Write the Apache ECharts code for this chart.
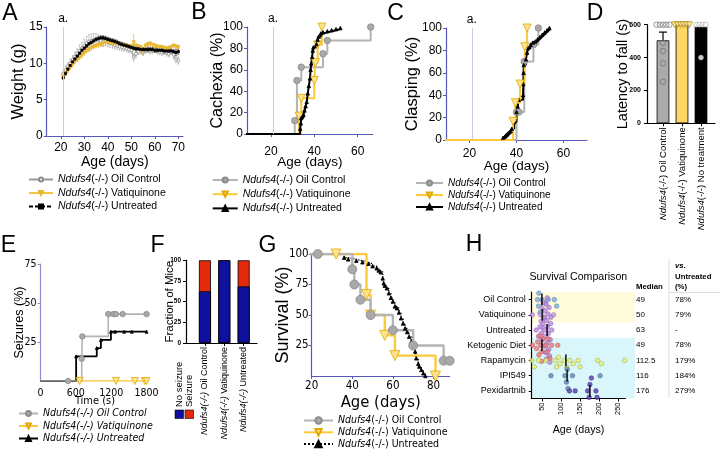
<!DOCTYPE html>
<html>
<head>
<meta charset="utf-8">
<script src="https://cdn.jsdelivr.net/npm/echarts@6.0.0/dist/echarts.min.js"></script>
<style>
html,body{margin:0;padding:0;background:#fff;}
#chart{width:720px;height:449px;}
</style>
</head>
<body>
<div id="chart"></div>
<script>
// ================= DATA =================
// Panel A - body weight (g) vs age (days), mean and SEM
const aAge = [21,22,23,24,25,26,27,28,29,30,31,32,33,34,35,36,37,38,39,40,41,42,43,44,45,46,47,48,49,50,51,52,53,54,55,56,57,58,59,60,61,62,63,64,65,66,67,68,69,70];
const aOilMean = [8.6,9.1,9.6,10.0,10.5,10.9,11.3,11.7,12.1,12.4,12.8,13.0,13.1,13.2,13.3,13.2,13.1,13.0,13.1,12.9,12.8,12.7,12.5,12.4,12.3,12.2,12.1,12.0,11.9,11.8,10.8,11.3,11.6,11.7,11.5,11.8,11.9,11.7,11.8,11.9,11.7,11.6,11.5,11.6,11.4,11.3,11.6,11.2,10.6,10.4];
const aOilSem  = [0.4,0.5,0.5,0.6,0.6,0.7,0.7,0.8,0.8,0.9,0.9,1.0,0.9,0.9,0.8,0.8,0.7,0.7,0.7,0.6,0.6,0.6,0.5,0.5,0.5,0.5,0.4,0.4,0.4,0.4,0.5,0.5,0.4,0.4,0.4,0.4,0.4,0.4,0.4,0.4,0.4,0.4,0.4,0.4,0.4,0.4,0.4,0.5,0.5,0.5];
const aVatMean = [8.2,8.6,9.0,9.4,9.8,10.2,10.5,10.8,11.1,11.4,11.7,11.9,12.1,12.3,12.4,12.5,12.6,12.7,12.8,12.9,12.9,12.8,12.8,12.7,12.6,12.5,12.5,12.4,12.3,12.3,12.9,12.4,12.3,12.2,11.6,12.4,12.6,12.7,12.5,12.4,12.3,12.2,12.2,12.1,12.0,12.1,12.2,12.4,12.3,12.2];
const aVatSem  = [0.3,0.3,0.3,0.3,0.3,0.3,0.3,0.3,0.3,0.3,0.3,0.3,0.3,0.3,0.3,0.3,0.3,0.3,0.3,0.3,0.3,0.3,0.3,0.3,0.3,0.3,0.3,0.3,0.3,0.3,1.0,0.4,0.3,0.3,0.4,0.3,0.3,0.3,0.3,0.3,0.3,0.3,0.3,0.3,0.3,0.3,0.3,0.3,0.3,0.3];
const aUntMean = [8.0,8.6,9.2,9.7,10.2,10.6,11.0,11.4,11.8,12.1,12.4,12.7,12.9,13.1,13.3,13.4,13.5,13.5,13.4,13.3,13.2,13.1,13.0,12.9,12.7,12.6,12.5,12.4,12.3,12.2,12.1,12.0,12.0,11.9,11.9,11.9,11.9,11.9,11.9,11.8,11.8,11.8,11.8,11.7,11.7,11.7,11.7,11.6,11.5,11.6];
const aUntSem  = [0.2,0.2,0.2,0.2,0.2,0.2,0.2,0.2,0.2,0.2,0.2,0.2,0.2,0.2,0.2,0.3,0.3,0.3,0.3,0.3,0.3,0.3,0.3,0.3,0.3,0.3,0.3,0.3,0.3,0.3,0.3,0.3,0.3,0.3,0.3,0.3,0.3,0.3,0.3,0.3,0.3,0.3,0.3,0.3,0.3,0.3,0.3,0.3,0.4,0.4];
const aTicks = [20,30,40,50,60,70];
const markerDay = 21;

// Panel B - cachexia (%)
const bOilT = [0,31,32,34,44,46,66];
const bOilV = [0,12.5,50,62.5,75,87.5,100];
const bVatT = [0,33,34,40,40.5,41.5,43.5];
const bVatV = [0,16.7,33.3,50,66.7,83.3,100];
const bUntT = [0,33.5,33.8,34,35,35.5,36,36.5,37,37.5,38,38.3,38.6,39,39.3,39.6,41,41.5,42,43,44,46,48,50,52];
const bUntV = [0,5,10,15,18,22,26,30,38,45,52,60,66,72,78,81,84,88,91,94,95,96,97,98,99];
const bcTicks = [20,40,60];

// Panel C - clasping (%)
const cOilT = [0,40,41,43.3,47.2,49.3];
const cOilV = [0,25,25,70,85,100];
const cVatT = [0,38.5,39.5,41.5,43.5,44.5];
const cVatV = [0,16.7,33.3,50,83.3,100];
const cUntT = [0,34.3,35,35.5,36,36.5,37,37.5,38,39,40,40.5,41,42.8,42.9,43,43.1,44,44.5,45,46,47,48,49,50,51,52,53,54];
const cUntV = [0,2,3,4,5,6,7,8,10,16,25,30,36,40,50,60,67,72,78,82,85,87,88,90,92,94,96,98,100];

// Panel D - latency to fall (s)
const dCats = ['Oil Control','Vatiquinone','No treatment'];
const dMean = [505,600,588];
const dSem = [50,0,10];
const dOil = [600,600,600,600,600,490,440,365,253];
const dVat = [600,600,600,600,600,600];
const dUnt = [600,600,600,600,400];

// Panel E - seizures (%) vs time (s)
const eOilT = [0,470,700,710,1150,1235,1280,1395,1800];
const eOilV = [0,0,14.3,28.6,42.9,42.9,42.9,42.9,42.9];
const eVatT = [600,663,1282,1602,1770,1800];
const eVatV = [0,0,0,0,0,0];
const eUntT = [0,605,955,1025,1195,1265,1420,1550,1800];
const eUntV = [0,15.8,21.1,26.3,31.6,31.6,31.6,31.6,31.6];
const eTicks = [0,600,1200,1800];
const eYTicks = [25,50,75];

// Panel F - fraction of mice
const fCats = ['Oil Control','Vatiquinone','Untreated'];
const fNoSeizure = [62.5,100,68.4];
const fSeizure = [37.5,0,31.6];

// Panel G - survival (%)
const gOilT = [0,23,40,41,44,49,60,70,85,88];
const gOilV = [100,100,87.5,75,62.5,50,37.5,25,12.5,12.5];
const gVatT = [0,32,47,49,56,61,81];
const gVatV = [100,100,66.7,50,33.3,16.7,0];
const gUntT = [0,36,38,42,45,48,50,52,53,54,55,55.5,56,57,58,59,60,61,62,63,64,65,66,67,68,69,70,71,71.5,72.5,73,74,75,76];
const gUntV = [100,97,95.6,94.5,93.2,92,90,88.3,86.5,85,80,76,74,71.9,67.8,64,61,57,55.5,52,47.3,43,39,36,32.2,28,25.4,20,14.5,10,7.7,5,2.2,0];
const gTicks = [20,40,60,80];
const gYTicks = [25,50,75,100];

// Panel H - survival comparison (age at death, days)
const hCats = ['Oil Control','Vatiquinone','Untreated','Ketogenic Diet','Rapamycin','IPI549','Pexidartnib'];
const hOil = [37,40,41,44,49,57,66,82,88];
const hVat = [24,45,47,49,50,52,56,80];
const hUnt = [34,40,44,48,50,52,54,55,56,57,58,59,60,61,62,63,63,64,65,66,67,68,69,70,71,72,73,75];
const hKeto = [24,35,38,41,44,46,48,49,52,59,63,66,70,75,91];
const hRapa = [22,29,40,60,84,88,93,97,108,115,123,132,145,150,197,207,268];
const hIpi = [73,110,114,116,118,130,203];
const hPexi = [122,137,170,174,176,178,180,192,195];
const hMedian = [49,50,63,49,112.5,116,176];
const hMedianText = ['49','50','63','49','112.5','116','176'];
const hVsUntreated = ['78%','79%','-','78%','179%','184%','279%'];
const hTicks = [50,100,150,200,250];

// ================= STYLE =================
const FONT = "'Liberation Sans', Arial, Helvetica, sans-serif";
const NARROW = "'Liberation Sans Narrow','Arial Narrow','DejaVu Sans Condensed','Liberation Sans',sans-serif";
const AXBLUE = '#5858b8';
const LBL = {oil:'Oil Control', vat:'Vatiquinone', unt:'Untreated'};

const GRIDS = [
  {left:46.7, top:27, width:136.3, height:109},   // A
  {left:247, top:27, width:125.9, height:107},    // B
  {left:446, top:28, width:141, height:112},      // C
  {left:647, top:24.7, width:68, height:98.6},    // D
  {left:40.5, top:264, width:109, height:117},    // E
  {left:186, top:260.3, width:71, height:82.7},   // F
  {left:311.7, top:254, width:138, height:122},   // G
  {left:531.7, top:292, width:93.7, height:106.5} // H
];

function xAx(g, min, max, ticks, o) {
  const col = o.color || AXBLUE;
  const lab = {customValues:ticks, color:'#000', fontFamily:o.font || FONT, fontSize:o.fs || 12,
      fontWeight:o.fw || 'normal', margin:o.margin == null ? 6 : o.margin, rotate:o.rotate || 0,
      formatter:o.fmt || (v => String(v))};
  if (o.rich) lab.rich = o.rich;
  const ax = {
    type:'value', gridIndex:g, min:min, max:max, nameMoveOverlap:false,
    axisLine:{show:o.line !== false, onZero:false, lineStyle:{color:col, width:1.2}},
    axisTick:{show:o.tick !== false, customValues:ticks, length:3, lineStyle:{color:col, width:1}},
    splitLine:{show:false},
    axisLabel:lab
  };
  if (o.name) {
    ax.name = o.name; ax.nameLocation = 'middle'; ax.nameGap = o.gap || 20;
    ax.nameTextStyle = {color:'#000', fontFamily:o.nfont || FONT, fontSize:o.nfs || 14};
  }
  return ax;
}
function yAx(g, min, max, ticks, o) {
  const col = o.color || AXBLUE;
  return {
    type:'value', gridIndex:g, min:min, max:max, nameMoveOverlap:false,
    axisLine:{show:true, onZero:false, lineStyle:{color:col, width:1.2}},
    axisTick:{show:true, customValues:ticks, length:3, lineStyle:{color:col, width:1}},
    splitLine:{show:false},
    axisLabel:{customValues:ticks, color:'#000', fontFamily:o.font || FONT, fontSize:o.fs || 12,
      fontWeight:o.fw || 'normal', margin:o.margin == null ? 4 : o.margin},
    name:o.name || '', nameLocation:'middle', nameGap:o.gap || 22,
    nameTextStyle:{color:'#000', fontFamily:FONT, fontSize:o.nfs || 16}
  };
}

function km(name, g, ts, vs, o) {
  return {
    type:'line', name:name, xAxisIndex:g, yAxisIndex:g, step:'end',
    data: ts.map((t, i) => i === 0 ? {value:[t, vs[i]], symbol:'none'} : [t, vs[i]]),
    symbol:o.symbol, symbolSize:o.size, symbolRotate:o.rot || 0, showAllSymbol:true,
    lineStyle:{color:o.line, width:o.lw || 2, type:o.ltype || 'solid'},
    itemStyle:{color:o.fill, borderColor:o.border || o.fill, borderWidth:o.bw == null ? 0.8 : o.bw},
    markLine:o.markLine, clip:true
  };
}
function aLine(name, ys, o) {
  return {
    type:'line', name:name, xAxisIndex:0, yAxisIndex:0,
    data: aAge.map((x, i) => [x, ys[i]]),
    symbol:o.symbol, symbolSize:o.size, symbolRotate:o.rot || 0, showAllSymbol:true,
    lineStyle:{color:o.line, width:o.lw || 1, type:o.ltype || 'solid'},
    itemStyle:{color:o.fill, borderColor:o.border || o.fill, borderWidth:0.8},
    markLine:o.markLine
  };
}
function errBars(g, xs, mean, sem, color, cap, lw) {
  return {
    type:'custom', xAxisIndex:g, yAxisIndex:g, silent:true, z:1,
    data: xs.map((x, i) => [x, mean[i] - sem[i], mean[i] + sem[i]]),
    renderItem: function (params, api) {
      const x = api.value(0);
      if (api.value(2) - api.value(1) <= 0) return null;
      const lo = api.coord([x, api.value(1)]);
      const hi = api.coord([x, api.value(2)]);
      const st = {stroke:color, lineWidth:lw};
      return {type:'group', children:[
        {type:'line', shape:{x1:lo[0], y1:lo[1], x2:hi[0], y2:hi[1]}, style:st},
        {type:'line', shape:{x1:hi[0] - cap, y1:hi[1], x2:hi[0] + cap, y2:hi[1]}, style:st},
        {type:'line', shape:{x1:lo[0] - cap, y1:lo[1], x2:lo[0] + cap, y2:lo[1]}, style:st}
      ]};
    }
  };
}
function markA() {
  return {silent:true, symbol:'none', lineStyle:{color:'#c9cbe3', width:1, type:'solid'},
    label:{show:true, formatter:'a.', position:'end', distance:2, color:'#000', fontSize:12, fontFamily:FONT},
    data:[{xAxis:markerDay}]};
}
function legend(names, left, top, iw, ih, gap, fs, font, allItalic) {
  return {
    show:true, orient:'vertical', left:left, top:top, height:80, itemWidth:iw, itemHeight:ih, itemGap:gap, padding:0,
    selectedMode:false, data:names,
    formatter: n => '{i|Ndufs4}' + '(-/-) ' + LBL[n.split('_')[1]],
    textStyle:{fontSize:fs, fontFamily:font, color:'#000', fontStyle:allItalic ? 'italic' : 'normal',
      rich:{i:{fontStyle:'italic', fontSize:fs, fontFamily:font, color:'#000'}}}
  };
}
function spreadTies(vals, step) {
  const counts = {}, seen = {};
  vals.forEach(v => counts[v] = (counts[v] || 0) + 1);
  return vals.map(v => {
    seen[v] = seen[v] === undefined ? 0 : seen[v] + 1;
    return counts[v] > 1 ? (seen[v] - (counts[v] - 1) / 2) * step : 0;
  });
}
function dScatter(vals, xi, o) {
  const offs = spreadTies(vals, o.step);
  return {type:'scatter', xAxisIndex:3, yAxisIndex:3, symbol:o.symbol, symbolSize:o.size, symbolRotate:o.rot || 0,
    data: vals.map((v, i) => ({value:[xi, v], symbolOffset:[offs[i], 0]})), itemStyle:o.style, z:4, clip:false};
}
// beeswarm layout in pixel space (deterministic, avoids overlap)
const hG = GRIDS[7];
const hMin = 22, hMax = 270;
function swarm(vals, row) {
  const pxX = hG.width / (hMax - hMin), pxRow = hG.height / hCats.length, d = 4.6;
  const placed = [];
  return vals.slice().sort((a, b) => a - b).map(v => {
    const x = v * pxX;
    let y = 0;
    for (let k = 0; k < 30; k++) {
      const c = k === 0 ? 0 : (k % 2 ? 1 : -1) * Math.ceil(k / 2) * d * 0.7;
      if (placed.every(p => (p[0] - x) ** 2 + (p[1] - c) ** 2 >= d * d * 0.85)) { y = c; break; }
    }
    placed.push([x, y]);
    return [v, row + y / pxRow];
  });
}

const GRAY = '#a9a9a9', GRAYB = '#8c8c8c', GRAYL = '#b4b4b4';
const YELF = '#fde38a', YELB = '#e0a800', YELL = '#fcc93a';

// ================= SERIES =================
const series = [];
// A
series.push(errBars(0, aAge, aOilMean, aOilSem, '#a0a0a0', 0.9, 0.6));
series.push(errBars(0, aAge, aVatMean, aVatSem, '#e0b030', 0.9, 0.6));
series.push(errBars(0, aAge, aUntMean, aUntSem, '#333', 0.9, 0.6));
series.push(aLine('A_oil', aOilMean, {symbol:'circle', size:3, line:'#9a9a9a', fill:'#fff', border:'#8a8a8a', markLine:markA()}));
series.push(aLine('A_vat', aVatMean, {symbol:'triangle', rot:180, size:3.2, line:'#f3c543', fill:'#e8b830'}));
series.push(aLine('A_unt', aUntMean, {symbol:'rect', size:2.2, line:'#000', fill:'#000', lw:1.3, ltype:[4,2]}));
// B
series.push(km('B_oil', 1, bOilT, bOilV, {symbol:'circle', size:6.5, line:GRAYL, fill:GRAY, border:GRAYB, markLine:markA()}));
series.push(km('B_vat', 1, bVatT, bVatV, {symbol:'triangle', rot:180, size:8, line:YELL, fill:YELF, border:YELB}));
series.push(km('B_unt', 1, bUntT, bUntV, {symbol:'triangle', size:3.5, line:'#000', fill:'#000'}));
// C
series.push(km('C_oil', 2, cOilT, cOilV, {symbol:'circle', size:6.5, line:GRAYL, fill:GRAY, border:GRAYB, markLine:markA()}));
series.push(km('C_unt', 2, cUntT, cUntV, {symbol:'triangle', size:3.5, line:'#000', fill:'#000'}));
series.push(km('C_vat', 2, cVatT, cVatV, {symbol:'triangle', rot:180, size:8, line:YELL, fill:YELF, border:YELB}));
// D
series.push({type:'bar', xAxisIndex:3, yAxisIndex:3, barWidth:12.7,
  data: dMean.map((v, i) => ({value:[i, v], itemStyle:{color:['#ababab', '#fdd664', '#000'][i]}})),
  itemStyle:{borderColor:'#000', borderWidth:0.8}, z:2});
series.push(errBars(3, [0, 1, 2], dMean, dSem, '#000', 4, 1.2));
series.push(dScatter(dOil, 0, {symbol:'circle', size:5.5, step:3.2, style:{color:'rgba(0,0,0,0)', borderColor:'#6f6f6f', borderWidth:0.9}}));
series.push(dScatter(dVat, 1, {symbol:'triangle', rot:180, size:6, step:3.0, style:{color:YELF, borderColor:'#9a7a00', borderWidth:0.7}}));
series.push(dScatter(dUnt, 2, {symbol:'circle', size:5, step:3.2, style:{color:'#fff', borderColor:'#9a9a9a', borderWidth:0.7}}));
// E
series.push(km('E_vat', 4, eVatT, eVatV, {symbol:'triangle', rot:180, size:7, line:YELL, fill:YELF, border:YELB, lw:1.6}));
series.push(km('E_unt', 4, eUntT, eUntV, {symbol:'triangle', size:3, line:'#000', fill:'#000', lw:1.8}));
series.push(km('E_oil', 4, eOilT, eOilV, {symbol:'circle', size:5.5, line:GRAYL, fill:GRAY, border:GRAYB, lw:1.6}));
// F (stacked: seizure segment sits on top of the no-seizure segment)
series.push({type:'bar', xAxisIndex:5, yAxisIndex:5, barWidth:12, z:2,
  data: fSeizure.map((v, i) => [i, fNoSeizure[i] + v]), itemStyle:{color:'#e32b0b', borderColor:'#000', borderWidth:0.8}});
series.push({type:'bar', xAxisIndex:5, yAxisIndex:5, barWidth:12, barGap:'-100%', z:3,
  data: fNoSeizure.map((v, i) => [i, v]), itemStyle:{color:'#10109e', borderColor:'#000', borderWidth:0.8}});
// G
series.push(km('G_unt', 6, gUntT, gUntV, {symbol:'triangle', size:3.5, line:'#000', fill:'#000', lw:1.3, ltype:'dotted'}));
series.push(km('G_vat', 6, gVatT, gVatV, {symbol:'triangle', rot:180, size:10, line:YELL, fill:YELF, border:YELB, lw:2.4}));
series.push(km('G_oil', 6, gOilT, gOilV, {symbol:'circle', size:9, line:GRAYL, fill:GRAY, border:GRAYB, lw:2.4}));
// H
const hRows = [hOil, hVat, hUnt, hKeto, hRapa, hIpi, hPexi];
const hFill = ['#7eaadb', '#c79ae6', '#b98ae0', '#e77d7d', '#e6f07c', '#5f86b5', '#5a3cab'];
const hStroke = ['#4f7fb3', '#9a68c4', '#8a5ab8', '#bf4d4d', '#98a838', '#3d5f8a', '#3a2380'];
hRows.forEach((vals, r) => series.push({type:'scatter', xAxisIndex:7, yAxisIndex:8, symbolSize:4.6,
  data: swarm(vals, r), itemStyle:{color:hFill[r], borderColor:hStroke[r], borderWidth:0.6}, z:3}));
series.push({type:'scatter', xAxisIndex:7, yAxisIndex:8, symbol:'rect', symbolSize:[1.8, 12],
  data: hMedian.map((m, r) => [m, r]), itemStyle:{color:'#000'}, z:4});

// ================= AXES =================
const dFmt = v => '{i|Ndufs4}(-/-) ' + dCats[Math.round(v)];
const fFmt = v => '{i|Ndufs4(-/-)} ' + fCats[Math.round(v)];
const xAxis = [
  xAx(0, 14, 72, aTicks, {name:'Age (days)', nfs:14, gap:19, margin:6}),
  xAx(1, 9, 67, bcTicks, {name:'Age (days)', nfs:13.5, gap:21, margin:12}),
  xAx(2, 10, 70, bcTicks, {name:'Age (days)', nfs:13.5, gap:19, margin:8}),
  xAx(3, -0.842, 2.737, [0, 1, 2], {color:'#000', rotate:90, fs:9.5, margin:4, fmt:dFmt,
    rich:{i:{fontStyle:'italic', fontSize:9.5, fontFamily:FONT}}}),
  xAx(4, 0, 1850, eTicks, {name:'Time (s)', line:false, tick:false, font:NARROW, fs:10.5, nfont:NARROW, nfs:11, gap:15, margin:7}),
  xAx(5, -0.98, 2.69, [0, 1, 2], {color:'#000', rotate:90, fs:9, margin:4, fmt:fFmt,
    rich:{i:{fontStyle:'italic', fontSize:9, fontFamily:FONT}}}),
  xAx(6, 20, 88, gTicks, {name:'Age (days)', font:NARROW, fs:11.5, nfont:NARROW, nfs:16.5, gap:18, margin:4}),
  xAx(7, hMin, hMax, hTicks, {color:'#000', rotate:90, fs:7.5, margin:4})
];
const yAxis = [
  yAx(0, 0, 15, [0, 5, 10, 15], {name:'Weight (g)', nfs:16.5, gap:20}),
  yAx(1, 0, 100, [0, 20, 40, 60, 80, 100], {name:'Cachexia (%)', nfs:16, gap:21}),
  yAx(2, 0, 100, [0, 20, 40, 60, 80, 100], {name:'Clasping (%)', nfs:16.5, gap:25}),
  yAx(3, 0, 600, [0, 200, 400, 600], {color:'#000', fs:7, fw:'bold', margin:6, name:'Latency to fall (s)', nfs:14.5, gap:17}),
  yAx(4, 0, 75, eYTicks, {color:'#8c8cd0', font:NARROW, fs:10.5, name:'Seizures (%)', nfs:12.6, gap:14}),
  yAx(5, 0, 100, [0, 25, 50, 75, 100], {color:'#000', fs:6.5, fw:'bold', margin:5, name:'Fraction of Mice', nfs:11.5, gap:10.5}),
  yAx(6, 0, 100, gYTicks, {font:NARROW, fs:11.5, margin:3, name:'Survival (%)', nfs:18, gap:20}),
  {type:'category', gridIndex:7, data:hCats, inverse:true,
    axisLine:{show:true, lineStyle:{color:'#000', width:1.2}},
    axisTick:{show:true, alignWithLabel:true, length:3, lineStyle:{color:'#000'}},
    axisLabel:{color:'#000', fontSize:9, fontFamily:FONT, margin:6}},
  {type:'value', gridIndex:7, min:-0.5, max:hCats.length - 0.5, inverse:true, show:false},
  {type:'category', gridIndex:7, data:hCats, inverse:true, position:'right',
    axisLine:{show:false}, axisTick:{show:false},
    axisLabel:{color:'#000', fontSize:8, fontFamily:FONT, margin:10.6, align:'left',
      formatter:v => hMedianText[hCats.indexOf(v)]}},
  {type:'category', gridIndex:7, data:hCats, inverse:true, position:'right',
    axisLine:{show:false}, axisTick:{show:false},
    axisLabel:{color:'#000', fontSize:8, fontFamily:FONT, margin:49.6, align:'left',
      formatter:v => hVsUntreated[hCats.indexOf(v)]}}
];

// ================= GRAPHICS (panel letters, legend of F, H table decorations) =================
const txt = (t, x, y, o) => ({type:'text', x:x, y:y, rotation:o.rot || 0, z:o.z || 10, silent:true,
  style:{text:t, fontSize:o.fs, fontFamily:o.font || FONT, fontWeight:o.fw || 'normal', fontStyle:o.fst || 'normal',
    fill:'#000', align:o.align || 'left', verticalAlign:o.va || 'middle',
    textAlign:o.align || 'left', textVerticalAlign:o.va || 'middle'}});
const letters = [['A', 10, 14], ['B', 199, 13], ['C', 395.5, 13.5], ['D', 595, 14], ['E', 8.5, 245.5], ['F', 157.5, 245.5], ['G', 267.5, 245.5], ['H', 474, 244.5]];
const rowH = hG.height / hCats.length;
const graphic = [];
letters.forEach(l => graphic.push(txt(l[0], l[1], l[2], {fs:23, align:'center'})));
// F legend
graphic.push({type:'rect', shape:{x:175, y:410, width:8.5, height:8.5}, style:{fill:'#10109e', stroke:'#000', lineWidth:0.6}});
graphic.push({type:'rect', shape:{x:185, y:410, width:8.5, height:8.5}, style:{fill:'#e32b0b', stroke:'#000', lineWidth:0.6}});
graphic.push(txt('No seizure', 179.5, 407, {fs:9.5, rot:Math.PI / 2}));
graphic.push(txt('Seizure', 189.5, 407, {fs:9.5, rot:Math.PI / 2}));
// H background bands
graphic.push({type:'rect', z:-10, silent:true, shape:{x:hG.left, y:hG.top, width:103.3, height:2 * rowH}, style:{fill:'#fffbdb'}});
graphic.push({type:'rect', z:-10, silent:true, shape:{x:hG.left, y:hG.top + 3 * rowH, width:103.3, height:4 * rowH}, style:{fill:'#d9f6fa'}});
// H titles and table
graphic.push(txt('Survival Comparison', 578.3, 276.7, {fs:10.6, align:'center'}));
graphic.push(txt('Age (days)', hG.left + hG.width / 2, 430, {fs:10.7, align:'center'}));
graphic.push(txt('Median', 636, 286.7, {fs:7.8, fw:'bold'}));
graphic.push(txt('vs.', 675, 266, {fs:7.8, fw:'bold', fst:'italic'}));
graphic.push(txt('Untreated', 675, 276.5, {fs:7.8, fw:'bold'}));
graphic.push(txt('(%)', 675, 287, {fs:7.8, fw:'bold'}));
graphic.push({type:'line', silent:true, shape:{x1:669, y1:259, x2:669, y2:398}, style:{stroke:'#d4d4d4', lineWidth:0.8}});
graphic.push({type:'line', silent:true, shape:{x1:669, y1:292.5, x2:720, y2:292.5}, style:{stroke:'#d4d4d4', lineWidth:0.8}});

// ================= CHART =================
const chart = echarts.init(document.getElementById('chart'), null, {renderer:'canvas', width:720, height:449});
chart.setOption({
  animation:false,
  backgroundColor:'#fff',
  grid: GRIDS.map(g => Object.assign({containLabel:false}, g)),
  xAxis: xAxis,
  yAxis: yAxis,
  legend: [
    legend(['A_oil', 'A_vat', 'A_unt'], 28, 174, 24, 5, 2.5, 10.5, FONT, false),
    legend(['B_oil', 'B_vat', 'B_unt'], 211.7, 174.5, 25, 6.5, 3.2, 10.5, FONT, false),
    legend(['C_oil', 'C_vat', 'C_unt'], 415, 178, 27, 6.5, 2, 10, FONT, false),
    legend(['E_oil', 'E_vat', 'E_unt'], 18, 408, 19, 6, 1.5, 10.5, NARROW, true),
    legend(['G_oil', 'G_vat', 'G_unt'], 303, 415, 29, 8, 0.8, 10.5, NARROW, false)
  ],
  graphic: graphic,
  series: series
});
</script>
</body>
</html>
